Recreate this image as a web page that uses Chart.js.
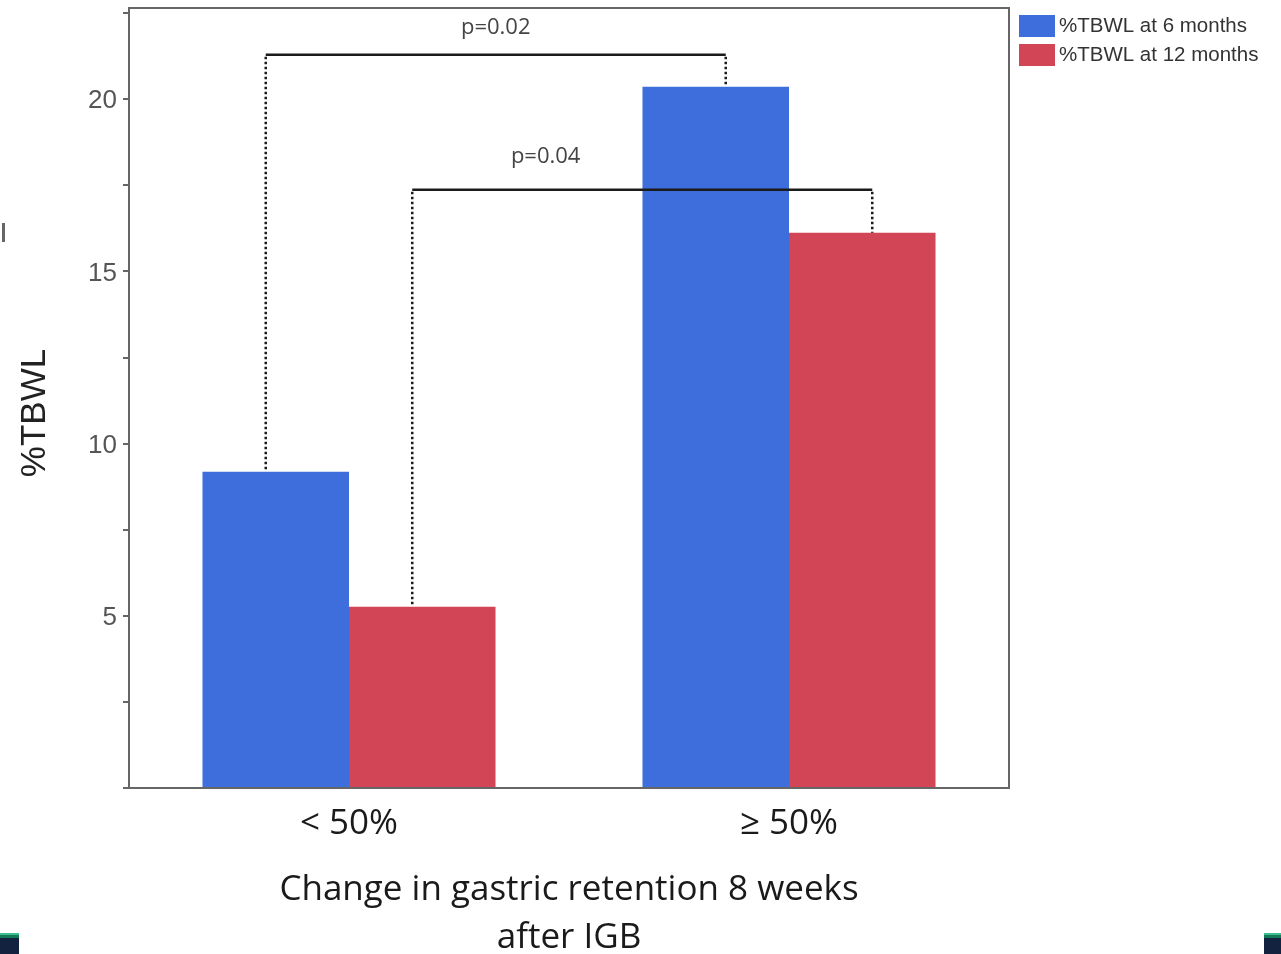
<!DOCTYPE html>
<html>
<head>
<meta charset="utf-8">
<title>%TBWL by change in gastric retention</title>
<script src="https://cdn.jsdelivr.net/npm/chart.js@4.4.1/dist/chart.umd.min.js"></script>
<style>
  html, body { margin: 0; padding: 0; background: #fff; }
  #wrap { width: 1281px; height: 954px; position: relative; }
</style>
</head>
<body>
<div id="wrap"><canvas id="c"></canvas></div>
<script>
// ---- data ----
const categories = ['< 50%', '≥ 50%'];
const seriesNames = ['%TBWL at 6 months', '%TBWL at 12 months'];
const tbwl6 = [9.18, 20.36];
const tbwl12 = [5.26, 16.12];
const yTickValues = [5, 10, 15, 20];
const xTitleLines = ['Change in gastric retention 8 weeks', 'after IGB'];
const yTitle = '%TBWL';

// significance brackets: which series is compared across the two groups
const comparisonLabels = ['p=0.02', 'p=0.04'];
const comparisonSeries = [0, 1];
const comparisonLevels = [21.29, 17.37];
const comparisonLabelLevels = [21.9, 18.15];

// ---- styling ----
const seriesColors = ['#3d6edc', '#d24557'];
const frameColor = '#666';
const bracketStyle = { outset: 10, labelAlong: [0.5, 0.29] };

const decorations = {
  id: 'decorations',
  afterDatasetsDraw(chart) {
    const { ctx, chartArea: a, scales: { y } } = chart;
    ctx.save();
    // plot frame
    ctx.strokeStyle = frameColor;
    ctx.lineWidth = 2;
    ctx.strokeRect(a.left, a.top, a.right - a.left, a.bottom - a.top);

    // comparison brackets
    comparisonLabels.forEach((label, i) => {
      const meta = chart.getDatasetMeta(comparisonSeries[i]);
      const b0 = meta.data[0], b1 = meta.data[1];
      const x0 = b0.x - bracketStyle.outset;
      const x1 = b1.x + bracketStyle.outset;
      const yl = y.getPixelForValue(comparisonLevels[i]);
      ctx.strokeStyle = '#1b1b1b';
      ctx.lineWidth = 2.5;
      ctx.setLineDash([2.5, 2.5]);
      ctx.beginPath();
      ctx.moveTo(x0, yl + 2); ctx.lineTo(x0, b0.y);
      ctx.moveTo(x1, yl + 2); ctx.lineTo(x1, b1.y);
      ctx.stroke();
      ctx.setLineDash([]);
      ctx.beginPath();
      ctx.moveTo(x0, yl); ctx.lineTo(x1, yl);
      ctx.stroke();
      ctx.fillStyle = '#444';
      ctx.font = '22px "Open Sans"';
      ctx.textAlign = 'center';
      ctx.textBaseline = 'alphabetic';
      const lx = x0 + (x1 - x0) * bracketStyle.labelAlong[i];
      ctx.fillText(label, lx, y.getPixelForValue(comparisonLabelLevels[i]));
    });
    ctx.restore();
  },
  afterDraw(chart) {
    const { ctx, chartArea: a } = chart;
    ctx.save();
    // y axis title
    ctx.translate(35, (a.top + a.bottom) / 2 + 15);
    ctx.rotate(-Math.PI / 2);
    ctx.fillStyle = '#222';
    ctx.font = '35px "Liberation Sans"';
    ctx.textAlign = 'center';
    ctx.textBaseline = 'middle';
    ctx.fillText(yTitle, 0, 0);
    ctx.restore();

    // legend
    ctx.save();
    ctx.font = '20.5px "Liberation Sans"';
    ctx.textBaseline = 'middle';
    ctx.textAlign = 'left';
    chart.data.datasets.forEach((ds, i) => {
      const top = 15 + i * 29;
      ctx.fillStyle = ds.backgroundColor;
      ctx.fillRect(a.right + 10, top, 36, 22);
      ctx.fillStyle = '#333';
      ctx.fillText(ds.label, a.right + 50, top + 11.5);
    });

    // slide edge marks
    ctx.fillStyle = '#666';
    ctx.fillRect(2, 223, 3, 19);
    [[0, 19], [1264, 17]].forEach(([x, w]) => {
      ctx.fillStyle = '#3dbf93'; ctx.fillRect(x, 933, w, 2);
      ctx.fillStyle = '#137a58'; ctx.fillRect(x, 935, w, 3);
      ctx.fillStyle = '#13223f'; ctx.fillRect(x, 938, w, 16);
    });
    ctx.restore();
  }
};

new Chart(document.getElementById('c'), {
  type: 'bar',
  data: {
    labels: categories,
    datasets: [
      { label: seriesNames[0], data: tbwl6, backgroundColor: seriesColors[0] },
      { label: seriesNames[1], data: tbwl12, backgroundColor: seriesColors[1] }
    ]
  },
  options: {
    responsive: true,
    maintainAspectRatio: false,
    animation: false,
    devicePixelRatio: 1,
    layout: { padding: { top: 8, right: 272, left: 0, bottom: 0 } },
    plugins: { legend: { display: false }, tooltip: { enabled: false } },
    datasets: { bar: { categoryPercentage: 0.666, barPercentage: 1.0, borderWidth: 0 } },
    scales: {
      x: {
        grid: { display: false },
        border: { display: false },
        ticks: { font: { family: 'Open Sans', size: 35 }, color: '#1a1a1a', padding: 7 },
        title: {
          display: true,
          text: xTitleLines,
          font: { family: 'Open Sans', size: 35, lineHeight: 1.37 },
          color: '#1a1a1a',
          padding: { top: 0, bottom: -8 }
        },
        afterFit(scale) { scale.height = 166; scale.paddingLeft = 0; scale.paddingRight = 0; }
      },
      y: {
        min: 0,
        max: 22.65,
        grid: { display: true, drawOnChartArea: false, drawTicks: true, tickLength: 6, color: frameColor, lineWidth: 2 },
        border: { display: false },
        ticks: {
          stepSize: 2.5,
          includeBounds: false,
          autoSkip: false,
          padding: 6,
          labelOffset: 2,
          font: { family: 'Liberation Sans', size: 26 },
          color: '#555',
          callback: (v) => yTickValues.includes(v) ? String(v) : ''
        },
        afterFit(scale) { scale.width = 129; scale.paddingTop = 0; scale.paddingBottom = 0; }
      }
    }
  },
  plugins: [decorations]
});
</script>
</body>
</html>
